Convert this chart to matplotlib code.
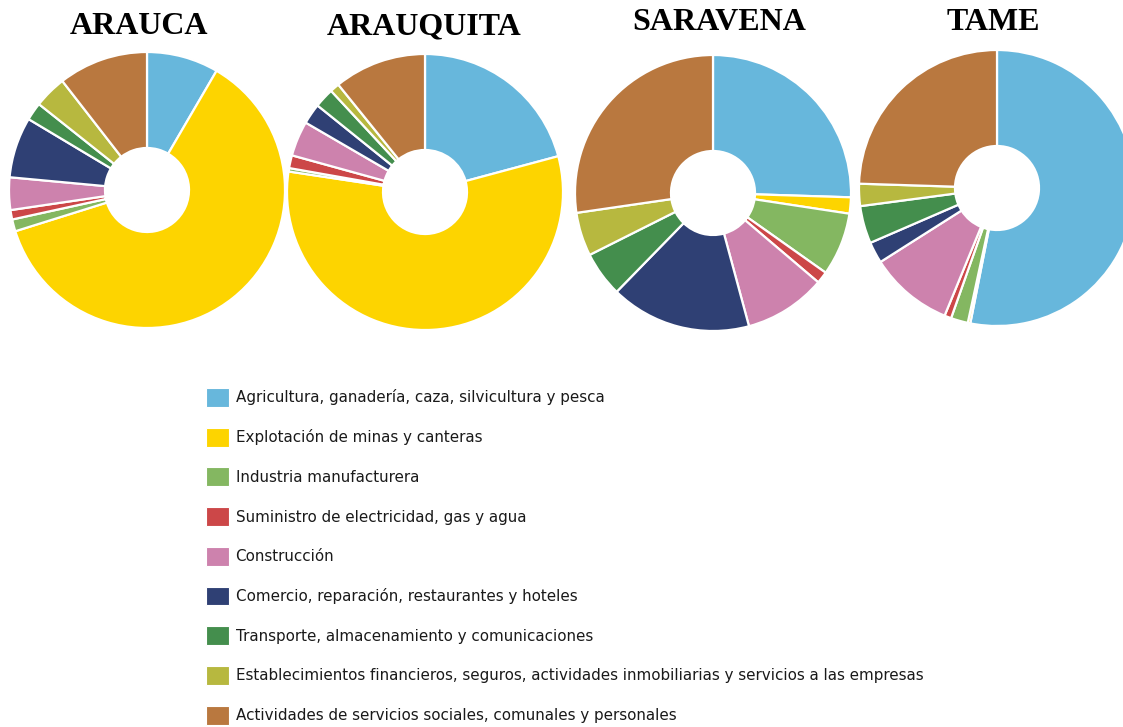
import matplotlib.pyplot as plt
from matplotlib.patches import Patch

# sectors, clockwise from 12 o'clock
sectores = [
    "Agricultura, ganadería, caza, silvicultura y pesca",
    "Explotación de minas y canteras",
    "Industria manufacturera",
    "Suministro de electricidad, gas y agua",
    "Construcción",
    "Comercio, reparación, restaurantes y hoteles",
    "Transporte, almacenamiento y comunicaciones",
    "Establecimientos financieros, seguros, actividades inmobiliarias y servicios a las empresas",
    "Actividades de servicios sociales, comunales y personales",
]
colores = ["#67b7dc", "#fdd400", "#84b761", "#cc4748", "#cd82ad",
           "#2f4074", "#448e4d", "#b7b83f", "#b9783f"]

municipios = ["ARAUCA", "ARAUQUITA", "SARAVENA", "TAME"]
# share (%) of each sector
arauca = [8.4, 61.7, 1.4, 1.1, 3.8, 7.1, 2.1, 3.8, 10.5]
arauquita = [20.8, 56.5, 0.4, 1.5, 4.1, 2.4, 2.3, 1.1, 10.8]
saravena = [25.5, 1.9, 7.4, 1.4, 9.6, 16.5, 5.3, 5.1, 27.3]
tame = [53.1, 0.3, 2.0, 0.8, 9.8, 2.5, 4.4, 2.6, 24.5]
valores = [arauca, arauquita, saravena, tame]

W, H = 1123, 727
fig = plt.figure(figsize=(W / 100, H / 100), dpi=100)
ax = fig.add_axes([0, 0, 1, 1])

# pie centres and title positions in pixels (top-left origin)
centros = [(147, 190), (425, 192), (713, 193), (997, 188)]
titulos_x = [139, 424, 719, 993]
titulos_y = [26, 27, 22, 22]
r = 138

for nombre, vals, (cx, cy), tx, ty in zip(municipios, valores, centros, titulos_x, titulos_y):
    ax.pie(vals, colors=colores, center=(cx, H - cy), radius=r,
           startangle=90, counterclock=False,
           wedgeprops=dict(width=r - 42, edgecolor="white", linewidth=1.6))
    ax.text(tx, H - ty, nombre, ha="center", va="center",
            family="Liberation Serif", fontweight="bold", fontsize=23)

ax.set_xlim(0, W)
ax.set_ylim(0, H)
ax.axis("off")

handles = [Patch(facecolor=c, edgecolor="white", linewidth=0.8) for c in colores]
fig.legend(handles, sectores, loc="upper left",
           bbox_to_anchor=(206 / W, 1 - 388 / H), frameon=False,
           fontsize=10.9, handlelength=1.55, handleheight=1.55,
           handletextpad=0.4, labelspacing=1.37, borderpad=0, borderaxespad=0,
           labelcolor="#1a1a1a")

fig.savefig("out.png", dpi=100)
